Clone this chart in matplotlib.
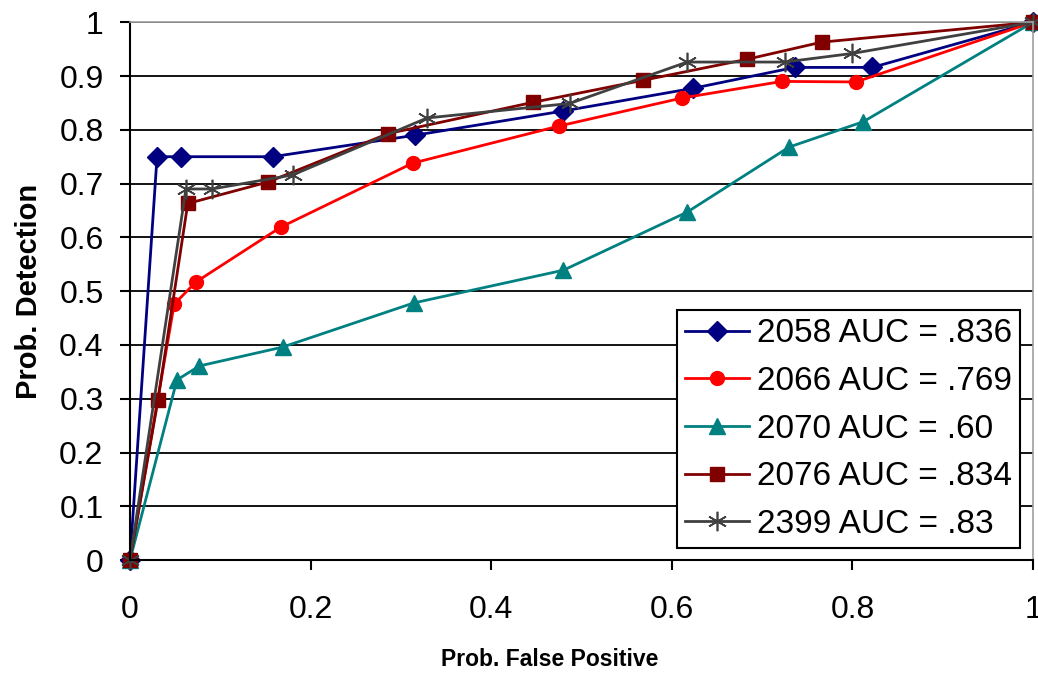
import numpy as np
import matplotlib
matplotlib.use("Agg")
import matplotlib.pyplot as plt

plt.rcParams['font.family'] = ['Liberation Sans', 'DejaVu Sans']

# ROC points
x_2058 = [0, 0.030, 0.056, 0.158, 0.316, 0.480, 0.623, 0.736, 0.822, 1.0]
y_2058 = [0, 0.750, 0.750, 0.750, 0.790, 0.835, 0.877, 0.916, 0.916, 1.0]

x_2066 = [0, 0.049, 0.073, 0.167, 0.313, 0.475, 0.611, 0.722, 0.804, 1.0]
y_2066 = [0, 0.476, 0.517, 0.619, 0.738, 0.807, 0.859, 0.890, 0.889, 1.0]

x_2070 = [0, 0.052, 0.077, 0.169, 0.314, 0.480, 0.617, 0.730, 0.812, 1.0]
y_2070 = [0, 0.335, 0.361, 0.396, 0.478, 0.539, 0.647, 0.768, 0.815, 1.0]

x_2076 = [0, 0.031, 0.064, 0.153, 0.286, 0.446, 0.568, 0.683, 0.766, 1.0]
y_2076 = [0, 0.297, 0.663, 0.703, 0.793, 0.851, 0.892, 0.931, 0.963, 1.0]

x_2399 = [0, 0.062, 0.091, 0.180, 0.329, 0.487, 0.617, 0.725, 0.800, 1.0]
y_2399 = [0, 0.690, 0.690, 0.716, 0.822, 0.849, 0.926, 0.926, 0.942, 1.0]

labels = ["2058 AUC = .836", "2066 AUC = .769", "2070 AUC = .60",
          "2076 AUC = .834", "2399 AUC = .83"]
xtick_vals = [0, 0.2, 0.4, 0.6, 0.8, 1]
xtick_labels = ["0", "0.2", "0.4", "0.6", "0.8", "1"]
ytick_vals = np.arange(0, 1.01, 0.1)
ytick_labels = ["0", "0.1", "0.2", "0.3", "0.4", "0.5", "0.6", "0.7", "0.8", "0.9", "1"]

fig = plt.figure(figsize=(10.38, 6.74), dpi=100)
ax = fig.add_axes([0.1252, 0.169, 0.870, 0.798])

ax.plot(x_2058, y_2058, color="#000080", marker="D", markersize=10, lw=2, label=labels[0], clip_on=False)
ax.plot(x_2066, y_2066, color="#FF0000", marker="o", markersize=10, lw=2, label=labels[1], clip_on=False)
ax.plot(x_2070, y_2070, color="#008080", marker="^", markersize=11, lw=2, label=labels[2], clip_on=False)
ax.plot(x_2076, y_2076, color="#800000", marker="s", markersize=10, lw=2, label=labels[3], clip_on=False)
ax.plot(x_2399, y_2399, color="#404040", marker=(6, 2, 0), markersize=14, mew=1.2, lw=2,
        label=labels[4], clip_on=False)

ax.set_xlim(0, 1)
ax.set_ylim(0, 1)
ax.set_xticks(xtick_vals)
ax.set_xticklabels(xtick_labels)
ax.set_yticks(ytick_vals)
ax.set_yticklabels(ytick_labels)
ax.tick_params(labelsize=23, direction="out", length=7, width=1.5)
ax.tick_params(axis="y", pad=12)
ax.tick_params(axis="x", pad=18)
ax.yaxis.grid(True, color="black", lw=1.3)
ax.set_axisbelow(True)

for s in ["left", "bottom"]:
    ax.spines[s].set_color("black")
    ax.spines[s].set_linewidth(1.5)
for s in ["top", "right"]:
    ax.spines[s].set_color("#a0a0a0")
    ax.spines[s].set_linewidth(1.2)

ax.set_xlabel("Prob. False Positive", fontsize=16.5, fontweight="bold")
ax.xaxis.set_label_coords(0.465, -0.164)
ax.set_ylabel("Prob. Detection", fontsize=21, fontweight="bold", labelpad=12)

leg = ax.legend(loc="lower right", bbox_to_anchor=(0.986, 0.022), fontsize=24, frameon=True,
                fancybox=False, edgecolor="black", framealpha=1, handlelength=1.9,
                borderpad=0.25, labelspacing=0.5, handletextpad=0.25, borderaxespad=0)
leg.get_frame().set_linewidth(1.5)

fig.savefig("out.png", dpi=100)
